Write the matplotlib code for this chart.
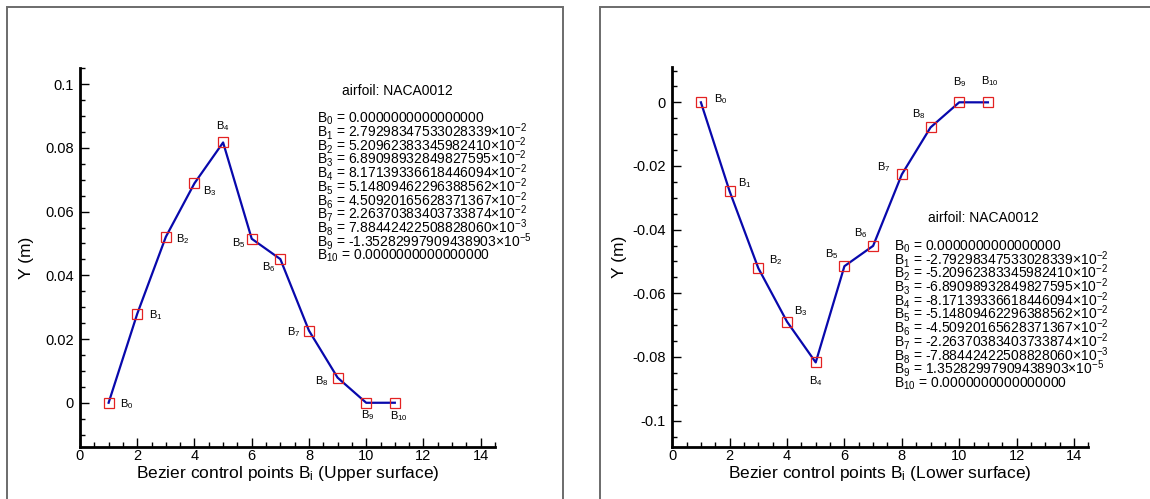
import matplotlib
matplotlib.use("Agg")
import matplotlib.pyplot as plt
from matplotlib.patches import Rectangle
from matplotlib.ticker import MultipleLocator, FuncFormatter

plt.rcParams['font.family'] = ['Liberation Sans', 'DejaVu Sans']
plt.rcParams['mathtext.fontset'] = 'custom'
plt.rcParams['mathtext.rm'] = 'Liberation Sans'
plt.rcParams['mathtext.it'] = 'Liberation Sans:italic'
plt.rcParams['mathtext.default'] = 'regular'
plt.rcParams['axes.unicode_minus'] = False

# control point index on the x axis
xpos = [1, 2, 3, 4, 5, 6, 7, 8, 9, 10, 11]
names = ["B$_{%d}$" % i for i in range(11)]

upper_mant = ["0.0000000000000000", "2.79298347533028339", "5.20962383345982410",
              "6.89098932849827595", "8.17139336618446094", "5.14809462296388562",
              "4.50920165628371367", "2.26370383403733874", "7.88442422508828060",
              "-1.35282997909438903", "0.0000000000000000"]
upper_exp = [0, -2, -2, -2, -2, -2, -2, -2, -3, -5, 0]

lower_mant = ["0.0000000000000000", "-2.79298347533028339", "-5.20962383345982410",
              "-6.89098932849827595", "-8.17139336618446094", "-5.14809462296388562",
              "-4.50920165628371367", "-2.26370383403733874", "-7.88442422508828060",
              "1.35282997909438903", "0.0000000000000000"]
lower_exp = [0, -2, -2, -2, -2, -2, -2, -2, -3, -5, 0]

# label placement (ha, dx, dy) in pixels
upper_lab = [('left', 11.7, 0), ('left', 11.7, 0), ('left', 10.3, -1), ('left', 8.8, -7),
             ('center', 0, 17.7), ('right', -6.6, -3), ('right', -4.8, -7),
             ('right', -8.4, -1), ('right', -8.8, -3), ('center', 1.5, -11.7),
             ('center', 3.7, -12)]
lower_lab = [('left', 13.2, 3.7), ('left', 8.4, 9.3), ('left', 10.3, 9), ('left', 7.3, 11.7),
             ('center', 0, -17.7), ('right', -5.5, 13.3), ('right', -5.9, 13.3),
             ('right', -11.7, 8.3), ('right', -4.8, 14), ('center', 0.5, 20.7),
             ('center', 2, 22)]


def values(mant, exp):
    return [float(m) * 10.0 ** e for m, e in zip(mant, exp)]


def coef_lines(mant, exp):
    out = []
    for i, (m, e) in enumerate(zip(mant, exp)):
        s = "B$_{%d}$ = %s" % (i, m)
        if e != 0:
            s += "\u00d710$^{%d}$" % e
        out.append(s)
    return out


fig = plt.figure(figsize=(11.5, 4.99), dpi=100)

# panel frames
fig.add_artist(Rectangle((7.3 / 1150, -0.1), (563 - 7.3) / 1150, 1.1 - 7.5 / 499,
                         transform=fig.transFigure, fill=False, ec='#6b6b6b', lw=1.4))
fig.add_artist(Rectangle((600 / 1150, -0.1), 0.5, 1.1 - 6.7 / 499,
                         transform=fig.transFigure, fill=False, ec='#6b6b6b', lw=1.4))

ax1 = fig.add_axes([80 / 1150, 1 - 446.7 / 499, 415 / 1150, (446.7 - 68.3) / 499])
ax2 = fig.add_axes([672.2 / 1150, 1 - 446.7 / 499, 416.2 / 1150, (446.7 - 66.7) / 499])

panels = [
    (ax1, upper_mant, upper_exp, upper_lab, (-0.0138, 0.105), "Upper surface",
     (11.08, 0.0966), (8.29, 0.08785), 8),
    (ax2, lower_mant, lower_exp, lower_lab, (-0.1082, 0.0112), "Lower surface",
     (10.85, -0.0376), (7.71, -0.0466), 4),
]

for ax, mant, exp, lab, ylim, surf, title_xy, list_xy, ypad in panels:
    y = values(mant, exp)
    ax.plot(xpos, y, color='#0808ac', lw=1.6, marker='s', ms=7,
            mfc='none', mec='#e32222', mew=0.9)
    for xi, yi, name, (ha, dx, dy) in zip(xpos, y, names, lab):
        ax.annotate(name, (xi, yi), xytext=(dx, dy - 4), textcoords='offset pixels',
                    ha=ha, va='baseline', fontsize=8)

    ax.text(title_xy[0], title_xy[1], "airfoil: NACA0012", ha='center',
            va='baseline', fontsize=10)
    for k, line in enumerate(coef_lines(mant, exp)):
        ax.text(list_xy[0], list_xy[1] - k * 0.0043, line, ha='left',
                va='baseline', fontsize=10)

    ax.set_xlim(0, 14.5)
    ax.set_ylim(*ylim)
    ax.xaxis.set_major_locator(MultipleLocator(2))
    ax.xaxis.set_minor_locator(MultipleLocator(0.5))
    ax.yaxis.set_major_locator(MultipleLocator(0.02))
    ax.yaxis.set_minor_locator(MultipleLocator(0.005))
    fmt = FuncFormatter(lambda v, p: f"{round(v, 4) + 0:g}")
    ax.xaxis.set_major_formatter(fmt)
    ax.yaxis.set_major_formatter(fmt)

    for side in ('top', 'right'):
        ax.spines[side].set_visible(False)
    for side in ('left', 'bottom'):
        ax.spines[side].set_linewidth(2)
    ax.tick_params(which='both', direction='in', width=1, labelsize=10.5)
    ax.tick_params(which='major', length=6.7)
    ax.tick_params(which='minor', length=3.6)
    ax.tick_params(axis='x', pad=2)
    ax.tick_params(axis='y', pad=4.5)

    ax.set_xlabel("Bezier control points B$_i$ (%s)" % surf, fontsize=12.5, labelpad=0.5)
    ax.set_ylabel("Y (m)", fontsize=12.5, labelpad=ypad)

fig.savefig("out.png", dpi=100)
